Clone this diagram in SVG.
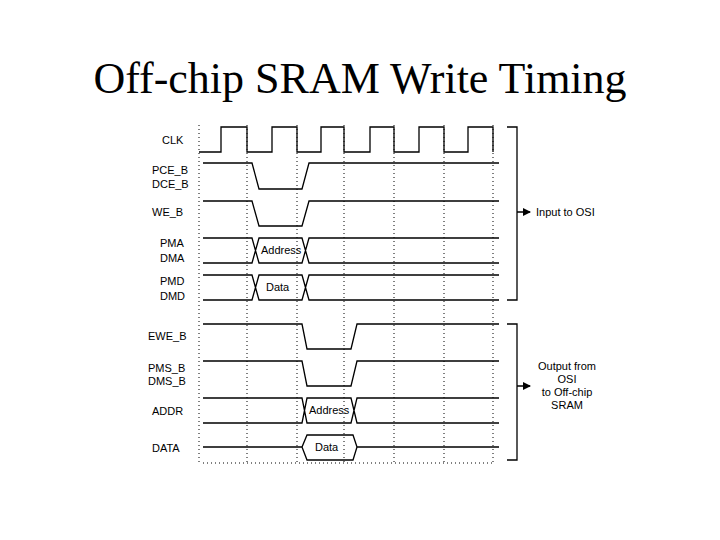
<svg xmlns="http://www.w3.org/2000/svg" width="720" height="540" viewBox="0 0 720 540">
<style>
.s{fill:none;stroke:#000;stroke-width:1.3}
.d{fill:none;stroke:#000;stroke-width:1;stroke-dasharray:1 3}
.l{font-family:"Liberation Sans",Arial,sans-serif;font-size:11px;fill:#000}
</style>
<defs><marker id="a" markerWidth="8" markerHeight="8" refX="7" refY="4" orient="auto" markerUnits="userSpaceOnUse"><path d="M0,0 L8,4 L0,8 Z"/></marker></defs>
<rect width="720" height="540" fill="#fff"/>
<text x="360" y="93" text-anchor="middle" font-family="'Liberation Serif','Times New Roman',serif" font-size="44">Off-chip SRAM Write Timing</text>
<g id="grid">
<path class="d" d="M199,125V462M247,125V462M297,125V462M344,125V462M394,125V462M444,125V462M493,125V462"/>
<path class="d" d="M203,463H493"/>
</g>
<g id="labels" class="l">
<text x="162" y="144">CLK</text>
<text x="152" y="174">PCE_B</text><text x="152" y="188">DCE_B</text>
<text x="152" y="216">WE_B</text>
<text x="160" y="247">PMA</text><text x="160" y="262">DMA</text>
<text x="160" y="285">PMD</text><text x="160" y="300">DMD</text>
<text x="148" y="340">EWE_B</text>
<text x="148" y="372">PMS_B</text><text x="148" y="385">DMS_B</text>
<text x="152" y="415">ADDR</text>
<text x="152" y="452">DATA</text>
</g>
<g id="CLK"><path class="s" d="M199,152H221V127H247V152H272V127H297V152H321V127H344V152H370V127H394V152H419V127H444V152H468V127H493V152"/></g>
<g id="PCE"><path class="s" d="M203,163H252L259,189H302L309,163H499"/></g>
<g id="WE"><path class="s" d="M203,201H252L259,226H302L309,201H499"/></g>
<g id="PMA"><path class="s" d="M203,238H252L259,263H302L309,238H499M203,263H252L259,238H302L309,263H499"/><text class="l" x="261" y="254">Address</text></g>
<g id="PMD"><path class="s" d="M203,275H252L259,300H302L309,275H499M203,300H252L259,275H302L309,300H499"/><text class="l" x="266" y="291">Data</text></g>
<g id="EWE"><path class="s" d="M203,324H302L307,349H351L357,324H499"/></g>
<g id="PMS"><path class="s" d="M203,361H302L307,386H351L357,361H499"/></g>
<g id="ADDR"><path class="s" d="M203,398H302L307,423H351L357,398H499M203,423H302L307,398H351L357,423H499"/><text class="l" x="309" y="414">Address</text></g>
<g id="DATA"><path class="s" d="M203,447H302L307,435H353L357,447L353,460H307L302,447M357,447H499"/><text class="l" x="315" y="451">Data</text></g>
<g id="connectors">
<path class="s" d="M507,127H517V300H507M517,212H530" marker-end="url(#a)"/>
<path class="s" d="M507,324H517V460H507M517,386H530" marker-end="url(#a)"/>
</g>
<g id="notes" class="l">
<text x="536" y="216">Input to OSI</text>
<text x="567" y="370" text-anchor="middle">Output from</text>
<text x="567" y="383" text-anchor="middle">OSI</text>
<text x="567" y="396" text-anchor="middle">to Off-chip</text>
<text x="567" y="409" text-anchor="middle">SRAM</text>
</g>
</svg>
